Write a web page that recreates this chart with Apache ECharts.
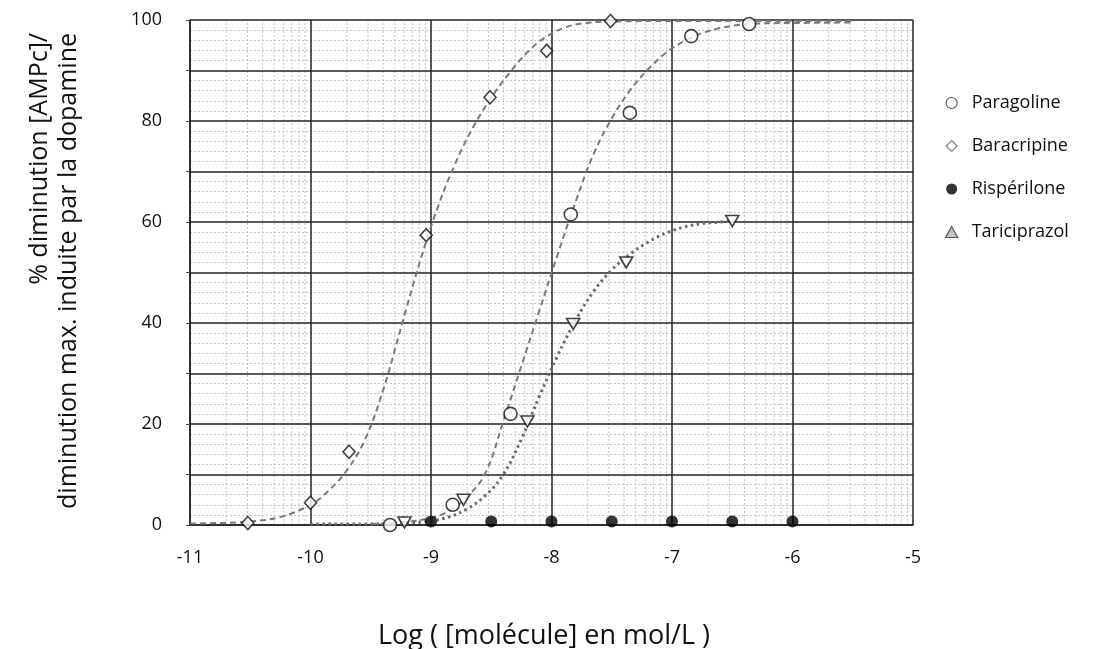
<!DOCTYPE html>
<html>
<head>
<meta charset="utf-8">
<script src="https://cdn.jsdelivr.net/npm/echarts@6/dist/echarts.min.js"></script>
<style>
html,body{margin:0;padding:0;background:#fff;}
#chart{width:1097px;height:649px;}
</style>
</head>
<body>
<div id="chart"></div>
<script>
// ---- Data ----
const seriesNames = ['Paragoline', 'Baracripine', 'Rispérilone', 'Tariciprazol'];

const paraX = [-9.34, -8.82, -8.34, -7.84, -7.35, -6.84, -6.36];
const paraY = [0.0, 4.0, 22.0, 61.5, 81.6, 96.8, 99.2];

const baraX = [-10.52, -10.0, -9.68, -9.04, -8.51, -8.04, -7.51];
const baraY = [0.4, 4.4, 14.5, 57.4, 84.7, 93.9, 99.8];

const rispX = [-9.0, -8.5, -8.0, -7.5, -7.0, -6.5, -6.0];
const rispY = [0.7, 0.7, 0.7, 0.7, 0.7, 0.7, 0.7];

const tariX = [-9.22, -8.73, -8.2, -7.82, -7.38, -6.5];
const tariY = [0.5, 5.0, 20.5, 39.8, 52.0, 60.2];

// fitted curves
const paraFitX = [-9.5, -9.25, -9.0, -8.85, -8.7, -8.55, -8.4, -8.25, -8.1, -7.95, -7.8, -7.65, -7.5, -7.35, -7.2, -7.05, -6.9, -6.75, -6.6, -6.45, -6.3, -6.0, -5.5];
const paraFitY = [0.2, 0.5, 1.4, 2.8, 5.6, 10.2, 20.5, 31.5, 42.5, 53.5, 64.0, 73.5, 80.5, 86.0, 90.2, 93.5, 95.8, 97.4, 98.4, 99.0, 99.3, 99.4, 99.5];

const baraFitX = [-11.0, -10.75, -10.5, -10.25, -10.0, -9.85, -9.7, -9.55, -9.4, -9.25, -9.1, -8.95, -8.8, -8.65, -8.5, -8.35, -8.2, -8.05, -7.9, -7.75, -7.5, -7.0, -6.5, -6.0, -5.5];
const baraFitY = [0.3, 0.4, 0.7, 1.6, 4.0, 6.8, 10.8, 16.8, 26.5, 39.0, 51.5, 62.5, 71.5, 78.8, 84.6, 89.5, 93.6, 96.6, 98.4, 99.3, 99.7, 99.8, 99.8, 99.8, 99.8];

const tariFitX = [-10.0, -9.5, -9.2, -9.0, -8.85, -8.7, -8.55, -8.4, -8.25, -8.1, -7.95, -7.8, -7.65, -7.5, -7.35, -7.2, -7.05, -6.9, -6.75, -6.6, -6.5];
const tariFitY = [0.2, 0.2, 0.4, 0.8, 1.6, 3.2, 5.8, 10.0, 17.0, 25.5, 33.5, 40.5, 46.3, 50.5, 53.6, 56.0, 57.8, 59.0, 59.7, 60.0, 60.2];

const xMin = -11, xMax = -5;
const yTickLabels = ['0', '20', '40', '60', '80', '100'];
const xTitle = 'Log ( [molécule] en mol/L )';
const yTitle1 = '% diminution [AMPc]/';
const yTitle2 = 'diminution max. induite par la dopamine';

// ---- helpers ----
const zip = (xs, ys) => xs.map((x, i) => [x, ys[i]]);
// logarithmic minor grid positions inside each decade
const minorX = [];
for (let d = xMin; d < xMax; d++) {
  for (let k = 2; k <= 9; k++) minorX.push(d + Math.log10(k));
}

const FONT = '"Open Sans", "Noto Sans", sans-serif';
const ICON_DIAMOND = 'path://M5,0L10,5L5,10L0,5Z';
const ICON_TRIANGLE = 'path://M5.5,0L11,10L0,10Z';

const chart = echarts.init(document.getElementById('chart'), null, {renderer: 'canvas'});

const option = {
  backgroundColor: '#fff',
  animation: false,
  textStyle: {fontFamily: FONT, color: '#111'},
  grid: {left: 190, right: 184, top: 20, bottom: 124, containLabel: false},
  xAxis: {
    type: 'value', min: xMin, max: xMax, interval: 1, z: 1,
    axisLine: {show: true, onZero: false, lineStyle: {color: '#222', width: 1.5}},
    axisTick: {show: false},
    axisLabel: {fontSize: 18, color: '#111', margin: 24, fontFamily: FONT},
    splitLine: {show: true, lineStyle: {color: '#222', width: 1.5}}
  },
  yAxis: {
    type: 'value', min: 0, max: 100, interval: 10, z: 1,
    axisLine: {show: true, lineStyle: {color: '#222', width: 1.5}},
    axisTick: {show: true, length: 4, lineStyle: {color: '#444'}},
    axisLabel: {
      fontSize: 18, color: '#111', margin: 28, fontFamily: FONT,
      formatter: v => (yTickLabels.indexOf(String(v)) >= 0 ? String(v) : '')
    },
    splitLine: {show: true, lineStyle: {color: '#222', width: 1.5}},
    minorTick: {show: false, splitNumber: 5},
    minorSplitLine: {show: true, lineStyle: {color: '#c4c4c4', width: 1, type: [2, 2]}}
  },
  legend: {
    orient: 'vertical', left: 940, top: 89,
    itemWidth: 30, itemHeight: 11, itemGap: 25,
    symbolRotate: 0, symbolKeepAspect: true,
    textStyle: {fontSize: 18, color: '#111', fontFamily: FONT},
    data: [
      {name: 'Paragoline', icon: 'circle', itemStyle: {color: '#fff', borderColor: '#333', borderWidth: 1.2}},
      {name: 'Baracripine', icon: ICON_DIAMOND, itemStyle: {color: '#fff', borderColor: '#666', borderWidth: 1.2}},
      {name: 'Rispérilone', icon: 'circle', itemStyle: {color: '#000', borderColor: '#000', borderWidth: 0}},
      {name: 'Tariciprazol', icon: ICON_TRIANGLE, itemStyle: {color: '#b5b5b5', borderColor: '#333', borderWidth: 1.2}}
    ]
  },
  graphic: [
    {type: 'text', x: 40, y: 33, rotation: Math.PI / 2, silent: true,
      style: {text: yTitle1, font: '25px ' + FONT, fill: '#111', align: 'right', verticalAlign: 'middle'}},
    {type: 'text', x: 69, y: 33, rotation: Math.PI / 2, silent: true,
      style: {text: yTitle2, font: '25px ' + FONT, fill: '#111', align: 'right', verticalAlign: 'middle'}},
    {type: 'text', x: 544, y: 636, silent: true,
      style: {text: xTitle, font: '27px ' + FONT, fill: '#111', align: 'center', verticalAlign: 'middle'}}
  ],
  series: [
    {
      name: 'minorGridX', type: 'custom', silent: true, z: 0,
      data: minorX.map(v => [v]),
      renderItem: (params, api) => {
        const p0 = api.coord([api.value(0), 0]);
        const p1 = api.coord([api.value(0), 100]);
        return {type: 'line', shape: {x1: p0[0], y1: p0[1], x2: p1[0], y2: p1[1]},
          style: {stroke: '#c4c4c4', lineWidth: 1, lineDash: [2, 2]}};
      }
    },
    {
      name: 'fitBara', type: 'line', data: zip(baraFitX, baraFitY), showSymbol: false, silent: true,
      smooth: 0.4, z: 3,
      lineStyle: {color: '#7a7a7a', width: 2, type: [6, 4]}
    },
    {
      name: 'fitPara', type: 'line', data: zip(paraFitX, paraFitY), showSymbol: false, silent: true,
      smooth: 0.4, z: 3,
      lineStyle: {color: '#7a7a7a', width: 2, type: [6, 4]}
    },
    {
      name: 'fitTari', type: 'line', data: zip(tariFitX, tariFitY), showSymbol: false, silent: true,
      smooth: 0.4, z: 3,
      lineStyle: {color: '#6a6a6a', width: 3, type: [2.5, 3.5]}
    },
    {
      name: 'Paragoline', type: 'scatter', data: zip(paraX, paraY), symbol: 'circle', symbolSize: 13, z: 5,
      itemStyle: {color: '#fff', borderColor: '#111', borderWidth: 1.6}
    },
    {
      name: 'Baracripine', type: 'scatter', data: zip(baraX, baraY), symbol: 'diamond', symbolSize: [12, 13], z: 5,
      itemStyle: {color: '#fff', borderColor: '#111', borderWidth: 1.6}
    },
    {
      name: 'Rispérilone', type: 'scatter', data: zip(rispX, rispY), symbol: 'circle', symbolSize: 12, z: 5,
      itemStyle: {color: '#000'}
    },
    {
      name: 'Tariciprazol', type: 'scatter', data: zip(tariX, tariY), symbol: 'triangle', symbolRotate: 180,
      symbolSize: [13, 11], z: 5,
      itemStyle: {color: '#fff', borderColor: '#111', borderWidth: 1.6}
    }
  ]
};
chart.setOption(option);
</script>
</body>
</html>
